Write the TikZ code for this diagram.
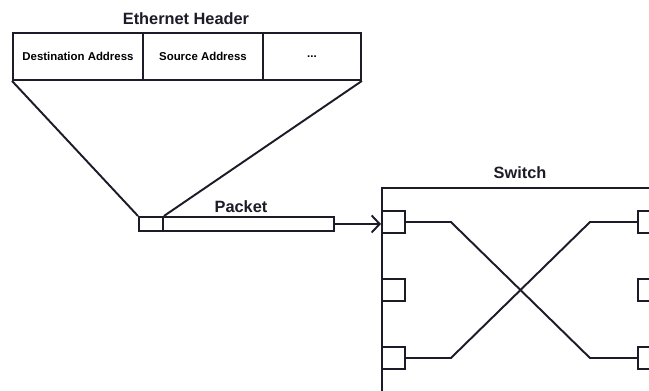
\documentclass[tikz,border=0pt]{standalone}
\usepackage{fontspec}
\setmainfont{Liberation Sans}
\usetikzlibrary{arrows.meta,calc}
\definecolor{ink}{HTML}{1C1C28}
\begin{document}
\begin{tikzpicture}[x=0.02cm,y=-0.02cm,
  box/.style={draw=ink,line width=1.1pt,inner sep=0pt,anchor=north west},
  cell/.style={box,minimum height=0.94cm,font=\bfseries\fontsize{6.5}{7}\selectfont},
  port/.style={box,anchor=west,minimum width=0.46cm,minimum height=0.44cm},
  wire/.style={draw=ink,line width=1.1pt},
  title/.style={font=\bfseries\fontsize{9.3}{11}\selectfont,text=ink}]
\fill[white] (0,0) rectangle (649,390);
\useasboundingbox (0,0) rectangle (649,390);
\clip (0,0) rectangle (649,390);

% Ethernet header
\node[title] (htitle) at (186,19) {Ethernet Header};
\node[cell,minimum width=2.6cm] (dst) at (12,32) {Destination Address};
\node[cell,minimum width=2.4cm] (src) at (142,32) {Source Address};
\node[cell,minimum width=1.96cm] (etc) at (262,32) {...};

% Packet
\node[box,minimum width=0.48cm,minimum height=0.28cm] (hdr) at (138,216) {};
\node[box,minimum width=3.42cm,minimum height=0.28cm] (body) at (162,216) {};
\node[title] (ptitle) at (241,207) {Packet};

% header expands from the packet's first part
\draw[wire] (dst.south west) -- (hdr.north west);
\draw[wire] (etc.south east) -- (hdr.north east);

% Switch
\node[title] (stitle) at (520,173) {Switch};
\node[box,minimum width=6.6cm,minimum height=4.4cm] (switch) at (381,187) {};
\node[port] (l1) at (381,222) {};
\node[port] (l2) at (381,290) {};
\node[port] (l3) at (381,358) {};
\node[port] (r1) at (637,222) {};
\node[port] (r2) at (637,290) {};
\node[port] (r3) at (637,358) {};

\draw[wire,-{Straight Barb[length=1.6mm,width=3.4mm]}] (body.east) -- (body.east -| switch.west);

% crossed connections
\draw[wire] (l1.east) -- ++(45,0) -- ($(r3.west)+(-47,0)$) -- (r3.west);
\draw[wire] (l3.east) -- ++(45,0) -- ($(r1.west)+(-47,0)$) -- (r1.west);
\end{tikzpicture}
\end{document}
